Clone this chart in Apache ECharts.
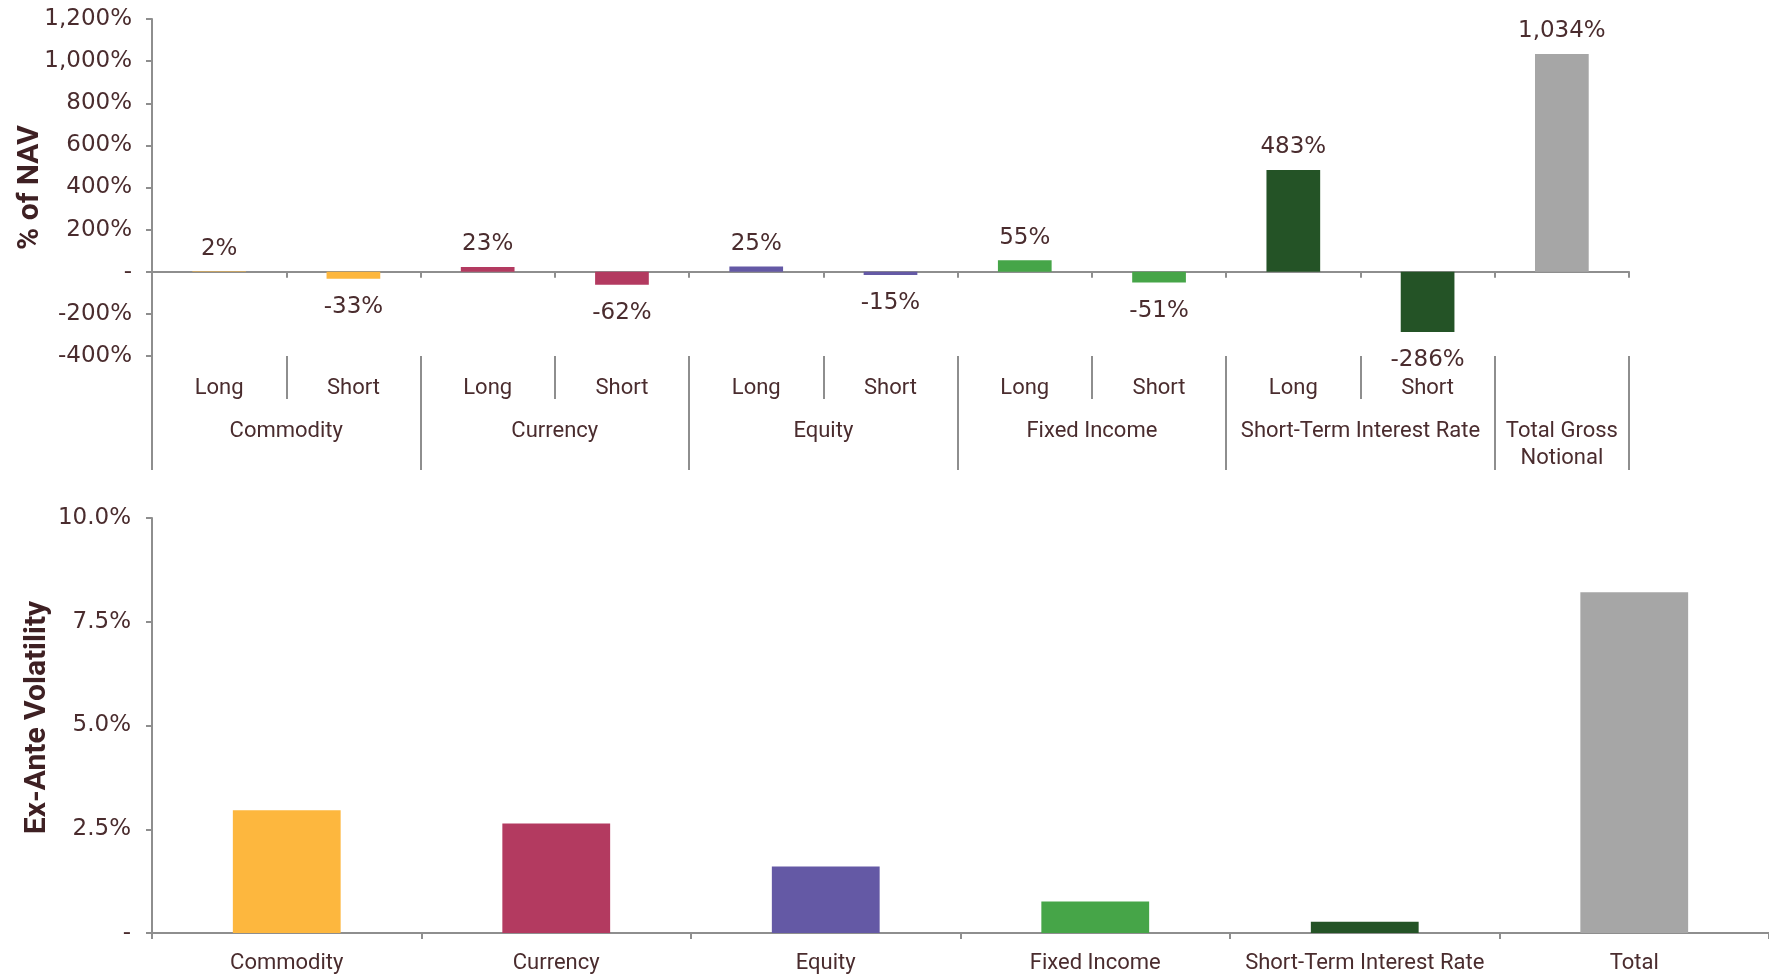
<!DOCTYPE html>
<html>
<head>
<meta charset="utf-8">
<script src="https://cdn.jsdelivr.net/npm/echarts@6/dist/echarts.min.js"></script>
<style>
  html, body { margin: 0; padding: 0; background: #ffffff; }
  #chart { width: 1769px; height: 976px; }
</style>
</head>
<body>
<div id="chart"></div>
<script>
// Gross notional exposure by position side (% of NAV)
const sideLabels = ['Long', 'Short', 'Long', 'Short', 'Long', 'Short', 'Long', 'Short', 'Long', 'Short', ''];
const sideGroupIndex = [0, 0, 1, 1, 2, 2, 3, 3, 4, 4, 5];
const navValues = [2, -33, 23, -62, 25, -15, 55, -51, 483, -286, 1034];
const groupLabels = ['Commodity', 'Currency', 'Equity', 'Fixed Income', 'Short-Term Interest Rate', 'Total Gross\nNotional'];
const navTickRange = [-400, 1200, 200];

// Ex-ante volatility by asset class (%)
const volCategories = ['Commodity', 'Currency', 'Equity', 'Fixed Income', 'Short-Term Interest Rate', 'Total'];
const volValues = [2.96, 2.64, 1.60, 0.76, 0.27, 8.21];
const volTickRange = [0, 10, 2.5];

const palette = ['#FDB73E', '#B33A60', '#6459A5', '#46A548', '#245326', '#A6A6A6'];

const TEXT = '#4A2C2E';
const TITLE = '#3E2023';
const AXIS = '#8E8E8E';
const FONT = 'Roboto, "Open Sans", sans-serif';
const NUM_FONT = '"DejaVu Sans", Roboto, sans-serif';

// Group boundaries and centres along the side axis, derived from the group membership
const groupEdges = [0];
const groupCentres = [];
for (let g = 0; g < groupLabels.length; g++) {
  const n = sideGroupIndex.filter(i => i === g).length;
  const start = groupEdges[groupEdges.length - 1];
  groupEdges.push(start + n);
  groupCentres.push(start + n / 2);
}

const withThousands = v => Math.round(v).toString().replace(/\B(?=(\d{3})+(?!\d))/g, ',');
const navLabel = v => (v === 0 ? '-' : withThousands(v) + '%');
const volLabel = v => (v === 0 ? '-' : v.toFixed(1) + '%');

const navData = navValues.map((v, i) => ({
  value: v,
  itemStyle: { color: palette[sideGroupIndex[i]] },
  label: v < 0 ? { position: 'bottom', distance: 17 } : { position: 'top', distance: 11 }
}));
const volData = volValues.map((v, i) => ({
  value: v,
  itemStyle: { color: palette[i] }
}));

const axisLineStyle = { color: AXIS, width: 2 };
const wordText = { color: TEXT, fontSize: 22, fontFamily: FONT };
const numText = { color: TEXT, fontSize: 23, fontFamily: NUM_FONT };

const chart = echarts.init(document.getElementById('chart'), null, { renderer: 'canvas' });
chart.setOption({
  animation: false,
  backgroundColor: '#ffffff',
  textStyle: { fontFamily: FONT },
  grid: [
    { left: 152, right: 140, top: 19, height: 337, containLabel: false, outerBoundsMode: 'none' },
    { left: 152, right: 0, top: 518, height: 415, containLabel: false, outerBoundsMode: 'none' }
  ],
  xAxis: [
    { // zero line with boundary ticks
      type: 'category', gridIndex: 0, position: 'bottom', data: sideLabels,
      axisLine: { onZero: true, lineStyle: axisLineStyle },
      axisTick: { show: true, length: 6, lineStyle: axisLineStyle },
      axisLabel: { show: false }
    },
    { // Long / Short row
      type: 'category', gridIndex: 0, position: 'bottom', data: sideLabels,
      axisLine: { show: false, onZero: false },
      axisTick: { show: true, length: 43, lineStyle: axisLineStyle },
      axisLabel: Object.assign({ margin: 21, interval: 0 }, wordText)
    },
    { // asset-class row
      type: 'value', gridIndex: 0, position: 'bottom',
      min: 0, max: sideLabels.length,
      splitLine: { show: false },
      axisLine: { show: false, onZero: false },
      axisTick: { show: true, length: 114, customValues: groupEdges, lineStyle: axisLineStyle },
      axisLabel: Object.assign({
        margin: 62, verticalAlign: 'top', lineHeight: 27, align: 'center',
        customValues: groupCentres,
        formatter: v => groupLabels[groupCentres.indexOf(v)] || ''
      }, wordText)
    },
    {
      type: 'category', gridIndex: 1, position: 'bottom', data: volCategories,
      axisLine: { lineStyle: axisLineStyle },
      axisTick: { show: true, length: 6, lineStyle: axisLineStyle },
      axisLabel: Object.assign({ margin: 19, interval: 0 }, wordText)
    }
  ],
  yAxis: [
    {
      type: 'value', gridIndex: 0,
      min: navTickRange[0], max: navTickRange[1], interval: navTickRange[2],
      name: '% of NAV', nameLocation: 'middle', nameGap: 107, nameRotate: 90, nameMoveOverlap: false,
      nameTextStyle: { color: TITLE, fontSize: 30, fontWeight: 'bold', fontFamily: FONT },
      splitLine: { show: false },
      axisLine: { show: true, onZero: false, lineStyle: axisLineStyle },
      axisTick: { show: true, length: 6, lineStyle: axisLineStyle },
      axisLabel: Object.assign({ margin: 20, formatter: navLabel }, numText)
    },
    {
      type: 'value', gridIndex: 1,
      min: volTickRange[0], max: volTickRange[1], interval: volTickRange[2],
      name: 'Ex-Ante Volatility', nameLocation: 'middle', nameGap: 100, nameRotate: 90, nameMoveOverlap: false,
      nameTextStyle: { color: TITLE, fontSize: 30, fontWeight: 'bold', fontFamily: FONT, padding: [0, 0, 0, 16] },
      splitLine: { show: false },
      axisLine: { show: true, onZero: false, lineStyle: axisLineStyle },
      axisTick: { show: true, length: 6, lineStyle: axisLineStyle },
      axisLabel: Object.assign({ margin: 21, formatter: volLabel }, numText)
    }
  ],
  series: [
    {
      type: 'bar', xAxisIndex: 0, yAxisIndex: 0,
      barWidth: '40%', data: navData,
      label: Object.assign({ show: true, formatter: p => navLabel(p.value) }, numText)
    },
    {
      type: 'bar', xAxisIndex: 3, yAxisIndex: 1,
      barWidth: '40%', data: volData
    }
  ]
});
</script>
</body>
</html>
